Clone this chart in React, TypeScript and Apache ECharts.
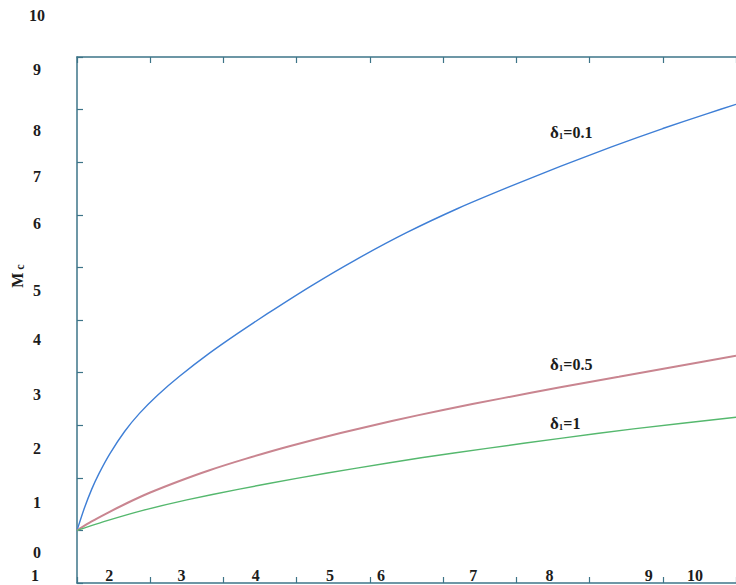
import React, { useEffect, useRef } from "react";
import * as echarts from "echarts";

// x axis: 1..10, y axis: 0..10
const xTicks = [1, 2, 3, 4, 5, 6, 7, 8, 9, 10];
const yTicks = [0, 1, 2, 3, 4, 5, 6, 7, 8, 9, 10];

// delta1 = 0.1 (blue)
const blueX = [1, 1.1, 1.2, 1.3, 1.45, 1.65, 1.85, 2.1, 2.4, 2.8, 3.2, 3.6, 4.2, 4.8, 5.5, 6.2, 6.9, 7.6, 8.3, 9.0, 9.6, 10];
const blueY = [1.0, 1.42, 1.78, 2.08, 2.46, 2.88, 3.22, 3.57, 3.93, 4.36, 4.75, 5.12, 5.65, 6.14, 6.66, 7.12, 7.53, 7.92, 8.29, 8.64, 8.92, 9.1];

// delta1 = 0.5 (red)
const redX = [1, 1.2, 1.4, 1.7, 2.0, 2.4, 2.8, 3.3, 3.9, 4.6, 5.3, 6.0, 6.8, 7.6, 8.4, 9.2, 10];
const redY = [1.0, 1.17, 1.32, 1.53, 1.72, 1.94, 2.14, 2.36, 2.6, 2.85, 3.08, 3.29, 3.51, 3.72, 3.92, 4.12, 4.32];

// delta1 = 1 (green)
const greenX = [1, 1.4, 1.9, 2.5, 3.2, 4.0, 4.8, 5.7, 6.6, 7.6, 8.6, 10];
const greenY = [1.0, 1.18, 1.38, 1.58, 1.78, 1.99, 2.18, 2.38, 2.56, 2.75, 2.93, 3.15];

const seriesNames = ["δ1=0.1", "δ1=0.5", "δ1=1"];
const seriesColors = ["#3f7fd6", "#c98590", "#55b86e"];

// label offsets (scan misalignment) — style only
const xLabelShift: Record<number, number> = { 1: 42, 2: 41, 3: 42, 4: 41, 5: 40, 6: 62, 7: 43, 8: 40, 9: 14, 10: 41 };
const yLabelShift: Record<number, number> = { 0: 31, 1: 28, 2: 29, 3: 31, 4: 33, 5: 30, 6: 44, 7: 38, 8: 32, 9: 40, 10: 42 };

const FONT = "'Liberation Serif', 'DejaVu Serif', serif";
const AXIS_COLOR = "#3d7488";
const TEXT_COLOR = "#1c1c1c";

export default function App() {
  const ref = useRef<HTMLDivElement>(null);
  useEffect(() => {
    if (!ref.current) return;
    const chart = echarts.init(ref.current, null, { renderer: "svg" });
    const zip = (xs: number[], ys: number[]) => xs.map((x, i) => [x, ys[i]]);

    const xRich: Record<string, any> = {};
    xTicks.forEach((v) => {
      xRich["x" + v] = {
        fontFamily: FONT, fontSize: 16, fontWeight: "bold", color: TEXT_COLOR,
        padding: [0, 2 * xLabelShift[v], 0, 0],
      };
    });
    const yRich: Record<string, any> = {};
    yTicks.forEach((v) => {
      yRich["y" + v] = {
        fontFamily: FONT, fontSize: 16, fontWeight: "bold", color: TEXT_COLOR,
        padding: [0, 0, 2 * yLabelShift[v], 0],
      };
    });

    const axisLine = { show: true, lineStyle: { color: AXIS_COLOR, width: 1.5 } };
    const axisTick = { show: true, inside: true, length: 6, lineStyle: { color: AXIS_COLOR, width: 1.2 } };

    const option: any = {
      animation: false,
      backgroundColor: "#ffffff",
      grid: { left: 77, top: 57, width: 666, height: 526, containLabel: false },
      xAxis: [
        {
          type: "value", position: "bottom", min: 1, max: 10, interval: 1,
          axisLine, axisTick, splitLine: { show: false },
          axisLabel: {
            inside: true, margin: 0, align: "center",
            formatter: (v: number) => `{x${v}|${v}}`, rich: xRich,
          },
        },
        {
          type: "value", position: "top", min: 1, max: 10, interval: 1,
          axisLine, axisTick, splitLine: { show: false }, axisLabel: { show: false },
        },
      ],
      yAxis: [
        {
          type: "value", position: "left", min: 0, max: 10, interval: 1,
          axisLine, axisTick, splitLine: { show: false },
          axisLabel: {
            margin: 40, align: "center", verticalAlign: "middle",
            formatter: (v: number) => `{y${v}|${v}}`, rich: yRich,
          },
        },
      ],
      series: [
        { name: seriesNames[0], data: zip(blueX, blueY), color: seriesColors[0] },
        { name: seriesNames[1], data: zip(redX, redY), color: seriesColors[1] },
        { name: seriesNames[2], data: zip(greenX, greenY), color: seriesColors[2] },
      ].map((s, i) => ({
        type: "line", name: s.name, data: s.data, smooth: 0.2,
        showSymbol: false, symbol: "none",
        xAxisIndex: 0, yAxisIndex: 0,
        lineStyle: { color: s.color, width: i === 1 ? 2 : 1.4 },
        z: 3,
      })),
      graphic: [
        {
          type: "text", x: 17, y: 276, rotation: Math.PI / 2,
          style: {
            text: "{m|M}{c| c}", align: "center", verticalAlign: "middle",
            rich: {
              m: { fontFamily: FONT, fontSize: 16, fontWeight: "bold", fill: TEXT_COLOR },
              c: { fontFamily: FONT, fontSize: 12, fontWeight: "bold", fill: TEXT_COLOR, verticalAlign: "bottom", padding: [5, 0, 0, 0] },
            },
          },
        },
        ...[
          { y: 132, v: "=0.1" },
          { y: 364, v: "=0.5" },
          { y: 423, v: "=1" },
        ].map((a) => ({
          type: "text", x: 550, y: a.y,
          style: {
            text: `{d|δ}{s|1}{e|${a.v}}`, align: "left", verticalAlign: "middle",
            rich: {
              d: { fontFamily: FONT, fontSize: 17, fontWeight: "bold", fill: TEXT_COLOR },
              s: { fontFamily: FONT, fontSize: 9, fontWeight: "bold", fill: TEXT_COLOR, padding: [8, 0, 0, 0] },
              e: { fontFamily: FONT, fontSize: 16, fontWeight: "bold", fill: TEXT_COLOR },
            },
          },
        })),
      ],
    };
    chart.setOption(option);
    return () => chart.dispose();
  }, []);
  return (
    <div
      ref={ref}
      style={{ position: "fixed", left: 0, top: 0, width: 736, height: 585, background: "#fff" }}
    />
  );
}
